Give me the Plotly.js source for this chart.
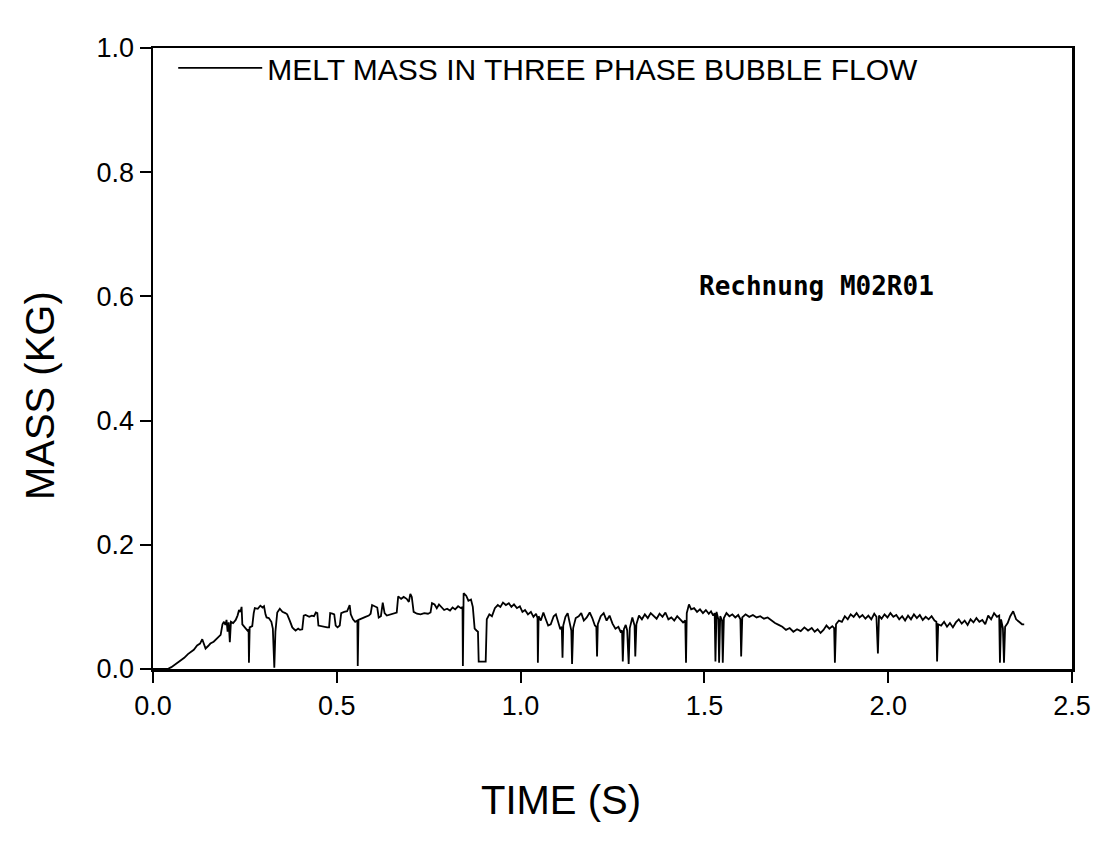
<!DOCTYPE html>
<html>
<head>
<meta charset="utf-8">
<script src="https://cdn.plot.ly/plotly-3.0.1.min.js"></script>
<style>html,body{margin:0;padding:0;background:#fff;}#chart{width:1104px;height:850px;}</style>
</head>
<body>
<div id="chart"></div>
<script>
var seriesName = "MELT MASS IN THREE PHASE BUBBLE FLOW";
var noteText = "Rechnung M02R01";
var xTitle = "TIME (S)";
var yTitle = "MASS (KG)";

var timeS = [0.000,0.040,0.050,0.060,0.074,0.085,0.095,0.105,0.111,0.120,0.128,0.134,0.138,0.143,0.150,0.156,0.165,0.175,0.184,0.189,0.193,0.197,0.200,0.203,0.206,0.209,0.212,0.218,0.225,0.230,0.234,0.238,0.241,0.243,0.250,0.257,0.260,0.261,0.263,0.270,0.274,0.277,0.285,0.292,0.298,0.302,0.306,0.309,0.315,0.322,0.326,0.330,0.333,0.338,0.345,0.352,0.360,0.365,0.372,0.379,0.384,0.388,0.395,0.400,0.406,0.410,0.415,0.425,0.432,0.438,0.443,0.447,0.450,0.456,0.465,0.474,0.479,0.482,0.488,0.493,0.497,0.502,0.508,0.512,0.520,0.528,0.535,0.538,0.544,0.550,0.556,0.557,0.559,0.568,0.578,0.587,0.592,0.596,0.604,0.610,0.614,0.620,0.625,0.630,0.636,0.645,0.655,0.663,0.667,0.675,0.682,0.690,0.696,0.700,0.704,0.709,0.718,0.728,0.738,0.748,0.755,0.759,0.766,0.772,0.778,0.785,0.792,0.800,0.808,0.815,0.822,0.830,0.838,0.842,0.843,0.845,0.852,0.858,0.865,0.870,0.875,0.880,0.884,0.886,0.895,0.905,0.908,0.915,0.922,0.930,0.938,0.945,0.952,0.960,0.968,0.975,0.982,0.990,0.998,1.005,1.012,1.020,1.028,1.035,1.042,1.046,1.047,1.049,1.055,1.062,1.068,1.075,1.082,1.090,1.096,1.102,1.108,1.112,1.114,1.116,1.122,1.128,1.134,1.138,1.140,1.143,1.150,1.158,1.165,1.172,1.180,1.188,1.195,1.202,1.206,1.208,1.210,1.218,1.226,1.234,1.242,1.250,1.258,1.266,1.272,1.276,1.278,1.281,1.286,1.290,1.294,1.297,1.304,1.310,1.312,1.315,1.322,1.330,1.338,1.346,1.354,1.362,1.370,1.378,1.386,1.394,1.402,1.410,1.418,1.426,1.434,1.442,1.448,1.450,1.452,1.458,1.464,1.472,1.480,1.488,1.496,1.504,1.512,1.518,1.524,1.528,1.530,1.533,1.538,1.540,1.543,1.548,1.550,1.553,1.560,1.568,1.576,1.584,1.592,1.598,1.600,1.603,1.612,1.622,1.632,1.642,1.652,1.662,1.672,1.682,1.692,1.702,1.712,1.722,1.732,1.742,1.752,1.762,1.772,1.782,1.792,1.800,1.808,1.816,1.824,1.832,1.840,1.848,1.853,1.855,1.858,1.866,1.874,1.882,1.890,1.898,1.906,1.914,1.922,1.930,1.938,1.946,1.954,1.962,1.968,1.972,1.975,1.982,1.990,1.998,2.006,2.014,2.022,2.030,2.038,2.046,2.054,2.062,2.070,2.078,2.086,2.094,2.102,2.110,2.118,2.126,2.131,2.133,2.136,2.144,2.152,2.160,2.168,2.176,2.184,2.192,2.200,2.208,2.216,2.224,2.232,2.240,2.248,2.256,2.264,2.272,2.280,2.288,2.296,2.302,2.304,2.307,2.312,2.315,2.318,2.325,2.332,2.340,2.348,2.356,2.364,2.370];

var massKg = [0.000,0.000,0.003,0.007,0.014,0.018,0.024,0.029,0.031,0.038,0.041,0.048,0.042,0.033,0.037,0.041,0.044,0.050,0.055,0.072,0.076,0.071,0.079,0.060,0.075,0.043,0.076,0.074,0.079,0.086,0.095,0.092,0.100,0.072,0.066,0.062,0.064,0.010,0.067,0.069,0.090,0.098,0.097,0.102,0.099,0.101,0.088,0.083,0.082,0.076,0.065,0.002,0.060,0.091,0.097,0.092,0.090,0.088,0.078,0.067,0.064,0.062,0.065,0.063,0.064,0.086,0.087,0.084,0.086,0.085,0.091,0.090,0.070,0.069,0.068,0.067,0.067,0.090,0.089,0.088,0.070,0.067,0.070,0.090,0.092,0.093,0.103,0.088,0.080,0.076,0.078,0.005,0.079,0.082,0.084,0.086,0.089,0.103,0.101,0.099,0.083,0.085,0.107,0.090,0.086,0.088,0.089,0.091,0.117,0.113,0.116,0.113,0.108,0.121,0.116,0.092,0.089,0.088,0.090,0.089,0.091,0.106,0.104,0.098,0.104,0.100,0.095,0.097,0.094,0.099,0.096,0.101,0.098,0.100,0.005,0.122,0.118,0.110,0.112,0.100,0.065,0.062,0.060,0.012,0.012,0.012,0.080,0.088,0.085,0.098,0.103,0.100,0.107,0.103,0.106,0.100,0.104,0.098,0.101,0.092,0.095,0.088,0.092,0.084,0.089,0.082,0.010,0.085,0.078,0.091,0.081,0.070,0.072,0.085,0.088,0.075,0.064,0.068,0.018,0.070,0.084,0.090,0.075,0.062,0.008,0.066,0.082,0.085,0.090,0.078,0.083,0.091,0.082,0.070,0.068,0.020,0.072,0.085,0.090,0.078,0.086,0.073,0.065,0.068,0.060,0.062,0.012,0.064,0.071,0.062,0.008,0.066,0.083,0.070,0.020,0.072,0.086,0.080,0.088,0.082,0.090,0.086,0.081,0.089,0.084,0.091,0.080,0.083,0.078,0.085,0.080,0.075,0.078,0.010,0.090,0.104,0.096,0.098,0.092,0.096,0.090,0.095,0.089,0.093,0.086,0.090,0.012,0.092,0.080,0.010,0.085,0.078,0.010,0.082,0.090,0.085,0.088,0.083,0.087,0.080,0.020,0.083,0.088,0.084,0.087,0.083,0.085,0.081,0.083,0.078,0.074,0.071,0.068,0.063,0.066,0.060,0.064,0.061,0.067,0.062,0.066,0.060,0.064,0.058,0.063,0.070,0.065,0.069,0.066,0.010,0.072,0.078,0.076,0.085,0.080,0.088,0.084,0.090,0.083,0.087,0.081,0.086,0.080,0.089,0.084,0.025,0.086,0.081,0.088,0.083,0.090,0.084,0.087,0.080,0.085,0.078,0.086,0.080,0.088,0.082,0.087,0.079,0.084,0.080,0.085,0.078,0.076,0.012,0.072,0.070,0.076,0.068,0.074,0.067,0.075,0.080,0.073,0.078,0.071,0.080,0.075,0.082,0.076,0.079,0.072,0.086,0.080,0.090,0.084,0.086,0.010,0.080,0.066,0.010,0.068,0.074,0.085,0.093,0.080,0.076,0.072,0.072];

var xTickVals = [0, 0.5, 1.0, 1.5, 2.0, 2.5];
var xTickText = ["0.0", "0.5", "1.0", "1.5", "2.0", "2.5"];
var yTickVals = [0, 0.2, 0.4, 0.6, 0.8, 1.0];
var yTickText = ["0.0", "0.2", "0.4", "0.6", "0.8", "1.0"];

var FONT = "Liberation Sans, Arial, sans-serif";

var trace = {
  x: timeS, y: massKg, type: "scatter", mode: "lines", name: seriesName,
  line: {color: "#000", width: 1.8}
};

var axisCommon = {
  showgrid: false, zeroline: false, showline: true, linecolor: "#000", linewidth: 2.5,
  mirror: true, ticks: "outside", ticklen: 11, tickwidth: 2, tickcolor: "#000",
  tickfont: {family: FONT, size: 27, color: "#000"}
};

var layout = {
  width: 1104, height: 850,
  paper_bgcolor: "#fff", plot_bgcolor: "#fff",
  margin: {l: 153, r: 32, t: 48, b: 181},
  showlegend: true,
  legend: {x: 0.022, y: 0.968, xanchor: "left", yanchor: "middle", itemwidth: 84,
           bgcolor: "rgba(0,0,0,0)", font: {family: FONT, size: 30, color: "#000"}},
  xaxis: Object.assign({}, axisCommon, {range: [0, 2.5], tickvals: xTickVals, ticktext: xTickText}),
  yaxis: Object.assign({}, axisCommon, {range: [0, 1.0], tickvals: yTickVals, ticktext: yTickText}),
  annotations: [
    {text: noteText, x: 1.806, y: 0.617, xref: "x", yref: "y", showarrow: false,
     font: {family: "DejaVu Sans Mono, monospace", size: 26, color: "#000", weight: "bold"}},
    {text: xTitle, x: 0.444, y: -0.211, xref: "paper", yref: "paper", showarrow: false,
     xanchor: "center", yanchor: "middle",
     font: {family: FONT, size: 40, color: "#000"}},
    {text: yTitle, x: -0.123, y: 0.441, xref: "paper", yref: "paper", showarrow: false,
     textangle: -90, xanchor: "center", yanchor: "middle",
     font: {family: FONT, size: 40, color: "#000"}}
  ]
};

Plotly.newPlot("chart", [trace], layout, {staticPlot: true, displayModeBar: false});
</script>
</body>
</html>
